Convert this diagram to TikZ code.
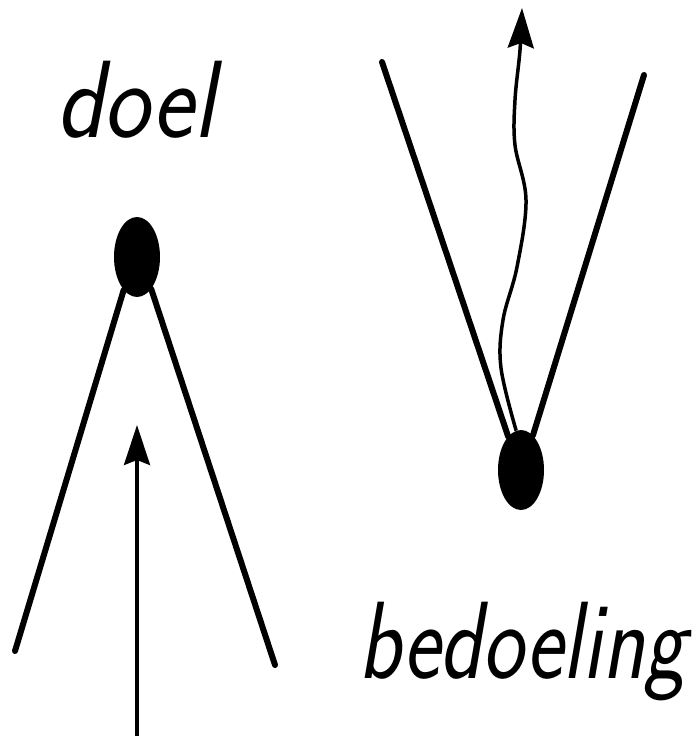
\documentclass[tikz,border=0pt]{standalone}
\usetikzlibrary{arrows.meta,shapes.geometric}
\begin{document}
\begin{tikzpicture}[x=1pt,y=-1pt,
  dot/.style={ellipse,fill=black,minimum width=46pt,minimum height=80pt,inner sep=0pt},
  leg/.style={line width=6pt,line cap=round},
  ray/.style={line width=3.5pt,-{Stealth[length=40pt,width=26pt,inset=5pt]}},
  word/.style={font=\fontsize{100}{110}\selectfont\sffamily\itshape,inner sep=0pt,anchor=base west}
]
\useasboundingbox (0,0) rectangle (698,736);
\fill[white] (0,0) rectangle (698,736);
% left figure
\node[word,xscale=0.98,yscale=1.1] (t1) at (56,137) {doel};
\node[dot] (d1) at (137,257) {};
\coordinate (l1) at (15,651);
\coordinate (r1) at (275,665);
\draw[leg] (d1.248) -- (l1);
\draw[leg] (d1.294) -- (r1);
\coordinate (a0) at (137,736);
\coordinate (a1) at (137,425);
\draw[ray] (a0) -- (a1);
% right figure
\node[dot] (d2) at (521,470) {};
\coordinate (l2) at (382,62);
\coordinate (r2) at (644,75);
\draw[leg] (d2.111) -- (l2);
\draw[leg] (d2.71) -- (r2);
\coordinate (w1) at (522,8);
\draw[ray] plot[smooth,tension=0.6] coordinates {(d2.97) (501,368) (503,320) (517,267) (526,200) (515,145) (515,100) (520,50) (w1)};
\node[word,xscale=0.88,yscale=1.1] (t2) at (358,678) {bedoeling};
\end{tikzpicture}
\end{document}
